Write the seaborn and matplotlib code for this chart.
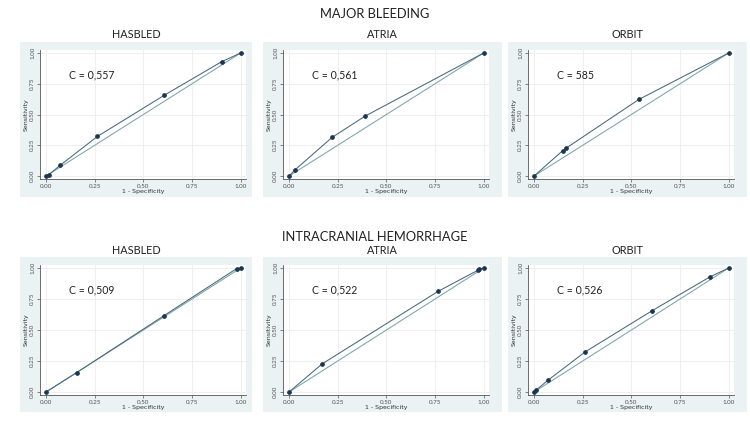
import matplotlib
matplotlib.use("Agg")
import matplotlib.pyplot as plt
import seaborn as sns
import pandas as pd
from matplotlib.patches import Rectangle

sns.set_theme(style="white")
plt.rcParams['font.family'] = ['Lato', 'DejaVu Sans']

# ---- data ----
row_titles = ["MAJOR BLEEDING", "INTRACRANIAL HEMORRHAGE"]
panel_titles = ["HASBLED", "ATRIA", "ORBIT"]

mb_hasbled_x = [0.0, 0.014, 0.073, 0.264, 0.608, 0.903, 1.0]
mb_hasbled_y = [0.0, 0.011, 0.088, 0.322, 0.657, 0.930, 1.0]
mb_atria_x = [0.0, 0.029, 0.221, 0.392, 1.0]
mb_atria_y = [0.0, 0.048, 0.314, 0.488, 1.0]
mb_orbit_x = [0.0, 0.147, 0.166, 0.538, 1.0]
mb_orbit_y = [0.0, 0.206, 0.228, 0.622, 1.0]

ich_hasbled_x = [0.0, 0.158, 0.606, 0.979, 1.0]
ich_hasbled_y = [0.0, 0.157, 0.616, 0.995, 1.0]
ich_atria_x = [0.0, 0.170, 0.767, 0.968, 0.975, 1.0]
ich_atria_y = [0.0, 0.227, 0.813, 0.980, 0.990, 1.0]
ich_orbit_x = [0.0, 0.009, 0.070, 0.262, 0.607, 0.903, 1.0]
ich_orbit_y = [0.0, 0.013, 0.093, 0.323, 0.656, 0.928, 1.0]

c_labels = [["C = 0,557", "C = 0,561", "C = 585"],
            ["C = 0,509", "C = 0,522", "C = 0,526"]]

ref_x = [0.0, 1.0]
ref_y = [0.0, 1.0]
ticks = [0.0, 0.25, 0.5, 0.75, 1.0]
tick_labels = ["0.00", "0.25", "0.50", "0.75", "1.00"]

curves = [[(mb_hasbled_x, mb_hasbled_y), (mb_atria_x, mb_atria_y), (mb_orbit_x, mb_orbit_y)],
          [(ich_hasbled_x, ich_hasbled_y), (ich_atria_x, ich_atria_y), (ich_orbit_x, ich_orbit_y)]]

# ---- layout (pixels) ----
W, H = 750, 421
fig = plt.figure(figsize=(7.5, 4.21), dpi=100)
fig.patch.set_facecolor("white")

axes_left = [40, 283, 528]
axes_w = 206
row_bottom = [179, 395]   # pixel y of axes bottom (from top)
row_h = [129, 130]
bg_x = [(20, 252), (263, 502), (508, 747)]
bg_y = [(42, 197), (257, 412)]
row_title_y = [14, 237]
panel_title_y = [35, 250]

line_col = "#46687a"
ref_col = "#7ba3ab"
mark_col = "#1a3550"
bg_col = "#eaf2f3"

for r in range(2):
    fig.text(0.5, 1 - row_title_y[r] / H, row_titles[r], ha="center", va="center",
             fontsize=9.3, color="#222222")
    for c in range(3):
        x0, x1 = bg_x[c]
        y0, y1 = bg_y[r]
        fig.patches.append(Rectangle((x0 / W, 1 - y1 / H), (x1 - x0) / W, (y1 - y0) / H,
                                     transform=fig.transFigure, facecolor=bg_col,
                                     edgecolor="none", zorder=-5))
        ax = fig.add_axes([axes_left[c] / W, 1 - row_bottom[r] / H, axes_w / W, row_h[r] / H])
        ax.set_zorder(2)
        ax.set_facecolor("white")
        xs, ys = curves[r][c]
        df = pd.DataFrame({"x": xs, "y": ys})
        dref = pd.DataFrame({"x": ref_x, "y": ref_y})
        sns.lineplot(data=dref, x="x", y="y", ax=ax, color=ref_col, lw=0.75, sort=False)
        sns.lineplot(data=df, x="x", y="y", ax=ax, color=line_col, lw=0.75, sort=False,
                     marker="o", markersize=2.6, markerfacecolor=mark_col,
                     markeredgecolor=mark_col)
        ax.set_xlim(-0.031, 1.027)
        ax.set_ylim(-0.024, 1.024)
        ax.set_xticks(ticks)
        ax.set_yticks(ticks)
        ax.set_xticklabels(tick_labels, fontsize=4.5, color="#333333")
        ax.set_yticklabels(tick_labels, fontsize=4.5, color="#333333", rotation=90,
                           va="center")
        ax.grid(True, color="#ededed", lw=0.6)
        ax.set_axisbelow(True)
        for s in ["top", "right"]:
            ax.spines[s].set_visible(False)
        for s in ["left", "bottom"]:
            ax.spines[s].set_color("#555555")
            ax.spines[s].set_linewidth(0.6)
        ax.tick_params(axis="both", length=2, width=0.5, pad=1.5, colors="#555555",
                       bottom=True, left=True)
        ax.set_xlabel("1 - Specificity", fontsize=4.5, labelpad=0, color="#333333",
                      family=["DejaVu Sans"])
        ax.set_ylabel("Sensitivity", fontsize=4.5, labelpad=1, color="#333333",
                      family=["DejaVu Sans"])
        ax.text(0.12, 0.82, c_labels[r][c], fontsize=7.6, color="#222222",
                va="center", ha="left")
        cx = (x0 + x1) / 2
        fig.text(cx / W, 1 - panel_title_y[r] / H, panel_titles[c], ha="center",
                 va="center", fontsize=7.8, color="#222222")

fig.savefig("out.png", dpi=100)
